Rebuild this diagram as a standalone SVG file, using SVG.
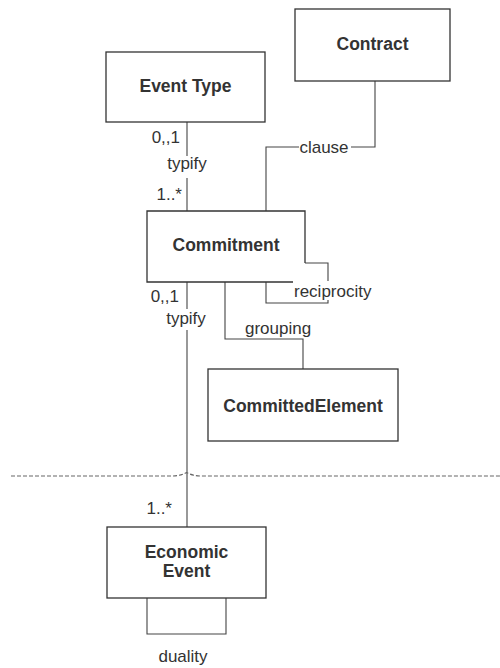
<svg xmlns="http://www.w3.org/2000/svg" width="500" height="668" viewBox="0 0 500 668">
<style>
.box{fill:#fff;stroke:#333;stroke-width:1.3}
.name{font-family:"Liberation Sans",Arial,sans-serif;font-weight:bold;font-size:17.5px;fill:#333;text-anchor:middle}
.lbl{font-family:"Liberation Sans",Arial,sans-serif;font-size:17px;fill:#333}
.c{fill:none;stroke:#444;stroke-width:1.1}
.bg{fill:#fff}
</style>
<rect width="500" height="668" fill="#fff"/>
<g id="connectors">
<path class="c" d="M187 122V211"/>
<path class="c" d="M375 81V147H266V211"/>
<path class="c" d="M305 263H328V303H266V282"/>
<path class="c" d="M225 282V339H303V369"/>
<path class="c" d="M187 282V527"/>
<path class="c" d="M147 598V634H226V598"/>
<path d="M11 476H172Q180 476 186.5 472.5Q193 476 201 476H500" fill="none" stroke="#666" stroke-width="1.1" stroke-dasharray="4 2"/>
<rect class="bg" x="165" y="156" width="44" height="22"/>
<rect class="bg" x="299" y="140" width="52" height="14"/>
<rect class="bg" x="293" y="281" width="83" height="19"/>
<rect class="bg" x="165" y="309" width="44" height="21"/>
<text class="lbl" x="180" y="143" text-anchor="end">0,,1</text>
<text class="lbl" x="187" y="169" text-anchor="middle">typify</text>
<text class="lbl" x="182" y="200" text-anchor="end">1..*</text>
<text class="lbl" x="324" y="153" text-anchor="middle">clause</text>
<text class="lbl" x="294" y="297">reciprocity</text>
<text class="lbl" x="245" y="334">grouping</text>
<text class="lbl" x="179" y="302" text-anchor="end">0,,1</text>
<text class="lbl" x="186" y="324" text-anchor="middle">typify</text>
<text class="lbl" x="172" y="514" text-anchor="end">1..*</text>
<text class="lbl" x="183" y="662" text-anchor="middle">duality</text>
</g>
<g id="event-type">
<rect class="box" x="106" y="52" width="159" height="70"/>
<text class="name" x="185.5" y="92">Event Type</text>
</g>
<g id="contract">
<rect class="box" x="295" y="9" width="155" height="72"/>
<text class="name" x="372.5" y="50">Contract</text>
</g>
<g id="commitment">
<path class="box" d="M293 282H147V211H305V263"/>
<text class="name" x="226" y="251">Commitment</text>
</g>
<g id="committed-element">
<rect class="box" x="208" y="369" width="190" height="72"/>
<text class="name" x="303" y="412">CommittedElement</text>
</g>
<g id="economic-event">
<rect class="box" x="107" y="527" width="159" height="71"/>
<text class="name" x="186.5" y="558">Economic</text>
<text class="name" x="186.5" y="577">Event</text>
</g>
</svg>
